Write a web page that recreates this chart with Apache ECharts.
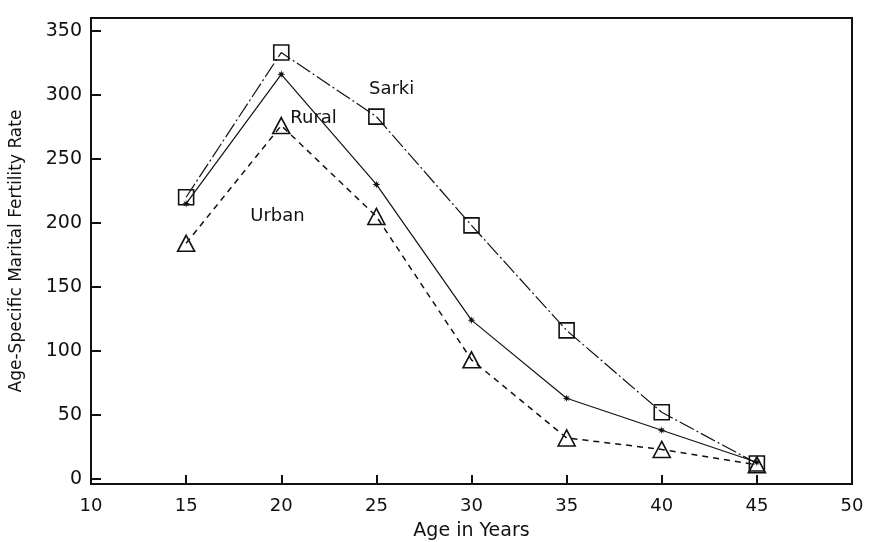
<!DOCTYPE html>
<html>
<head>
<meta charset="utf-8">
<script src="https://cdn.jsdelivr.net/npm/echarts@6/dist/echarts.min.js"></script>
<style>
  html, body { margin: 0; padding: 0; background: #fff; }
  #chart { width: 869px; height: 542px; }
</style>
</head>
<body>
<div id="chart"></div>
<script>
const ages = [15, 20, 25, 30, 35, 40, 45]
const sarki = [220, 333, 283, 198, 116, 52, 12]
const rural = [215, 316, 230, 124, 63, 38, 13]
const urban = [184, 276, 205, 93, 32, 23, 11]
const xTicks = [10, 15, 20, 25, 30, 35, 40, 45, 50]
const yTicks = [0, 50, 100, 150, 200, 250, 300, 350]

// label anchors in data space: [name, age, rate]
const seriesLabels = [
  ['Sarki', 25.8, 304],
  ['Rural', 21.7, 282],
  ['Urban', 19.8, 205]
]

const font = 'DejaVu Sans'
const ink = '#111'

const pair = (vals) => ages.map((a, i) => [a, vals[i]])

const asterisk = 'path://M0,-5L1,-1.2L5,0L1,1.2L0,5L-1,1.2L-5,0L-1,-1.2Z' +
  'M3.5,-3.5L1.2,0L3.5,3.5L0,1.2L-3.5,3.5L-1.2,0L-3.5,-3.5L0,-1.2Z'

const option = {
  animation: false,
  backgroundColor: '#fff',
  grid: {
    left: 91,
    right: 17,
    top: 18,
    bottom: 58,
    outerBoundsMode: 'none',
    show: true,
    borderColor: ink,
    borderWidth: 2,
    backgroundColor: 'transparent'
  },
  xAxis: {
    type: 'value',
    min: 10,
    max: 50,
    interval: 5,
    name: 'Age in Years',
    nameLocation: 'middle',
    nameGap: 38,
    nameTextStyle: { color: ink, fontSize: 19, fontFamily: font },
    axisLine: { show: true, onZero: false, lineStyle: { color: ink, width: 2 } },
    axisTick: { show: true, inside: true, length: 9, customValues: xTicks, lineStyle: { color: ink, width: 2 } },
    axisLabel: { color: ink, fontSize: 18, fontFamily: font, margin: 13 },
    splitLine: { show: false }
  },
  yAxis: {
    type: 'value',
    min: -4,
    max: 360,
    name: 'Age-Specific Marital Fertility Rate',
    nameLocation: 'middle',
    nameGap: 66,
    nameTextStyle: { color: ink, fontSize: 17, fontFamily: font },
    axisLine: { show: true, onZero: false, lineStyle: { color: ink, width: 2 } },
    axisTick: { show: true, inside: true, length: 10, customValues: yTicks, lineStyle: { color: ink, width: 2 } },
    axisLabel: { color: ink, fontSize: 19, fontFamily: font, margin: 9, customValues: yTicks },
    splitLine: { show: false }
  },
  series: [
    {
      name: 'Sarki',
      type: 'line',
      data: pair(sarki),
      symbol: 'rect',
      symbolSize: 15,
      itemStyle: { color: 'rgba(0,0,0,0)', borderColor: ink, borderWidth: 1.6 },
      lineStyle: { color: ink, width: 1.2, type: [16, 3, 2, 3] }
    },
    {
      name: 'Rural',
      type: 'line',
      data: pair(rural),
      symbol: asterisk,
      symbolSize: 8,
      itemStyle: { color: ink, borderWidth: 0 },
      lineStyle: { color: ink, width: 1.2, type: 'solid' }
    },
    {
      name: 'Urban',
      type: 'line',
      data: pair(urban),
      symbol: 'triangle',
      symbolSize: [17, 16],
      itemStyle: { color: 'rgba(0,0,0,0)', borderColor: ink, borderWidth: 1.6 },
      lineStyle: { color: ink, width: 1.5, type: [6, 5] }
    }
  ]
}

const chart = echarts.init(document.getElementById('chart'))
chart.setOption(option)

chart.setOption({
  graphic: seriesLabels.map(([name, x, y]) => {
    const p = chart.convertToPixel({ gridIndex: 0 }, [x, y])
    return {
      type: 'text',
      x: p[0],
      y: p[1],
      style: {
        text: name,
        fill: ink,
        font: '18px "' + font + '"',
        align: 'center',
        verticalAlign: 'middle'
      }
    }
  })
})
</script>
</body>
</html>
